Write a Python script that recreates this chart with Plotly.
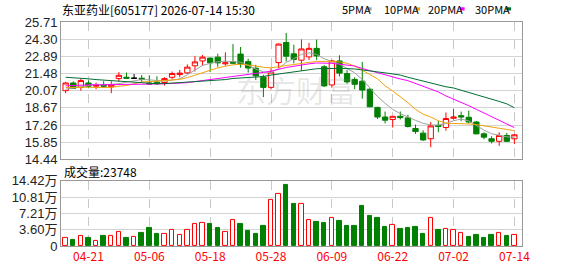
import plotly.graph_objects as go

# ---------------- data ----------------
dates = ["04-16", "04-17", "04-20", "04-21", "04-22", "04-23", "04-24", "04-27", "04-28", "04-29",
         "04-30", "05-06", "05-07", "05-08", "05-11", "05-12", "05-13", "05-14", "05-15", "05-18",
         "05-19", "05-20", "05-21", "05-22", "05-25", "05-26", "05-27", "05-28", "05-29", "06-01",
         "06-02", "06-03", "06-04", "06-05", "06-08", "06-09", "06-10", "06-11", "06-12", "06-15",
         "06-16", "06-17", "06-18", "06-22", "06-23", "06-24", "06-25", "06-26", "06-29", "06-30",
         "07-01", "07-02", "07-03", "07-06", "07-07", "07-08", "07-09", "07-10", "07-13", "07-14"]

opens = [20.08, 20.71, 20.34, 20.71, 20.45, 20.55, 20.40, 21.07, 21.18, 21.10,
         21.10, 20.71, 20.78, 20.75, 21.18, 21.40, 21.54, 22.12, 22.52, 22.75,
         22.83, 22.28, 22.44, 23.08, 22.46, 21.92, 21.19, 20.35, 22.38, 24.03,
         23.10, 22.58, 22.85, 23.55, 22.04, 20.55, 22.52, 21.48, 21.00, 20.86,
         20.20, 18.71, 17.92, 17.72, 17.98, 17.85, 16.98, 16.60, 16.14, 17.24,
         17.06, 17.82, 18.03, 17.90, 17.51, 16.54, 16.14, 15.93, 16.41, 16.14]
highs = [20.81, 20.84, 21.07, 20.91, 20.75, 20.85, 20.85, 21.60, 21.57, 21.44,
         21.36, 21.34, 21.26, 21.18, 21.65, 21.78, 22.23, 22.91, 23.01, 22.80,
         23.11, 23.22, 23.90, 23.66, 22.70, 22.20, 21.38, 21.93, 23.95, 24.82,
         23.85, 24.28, 24.00, 24.27, 22.17, 22.62, 22.98, 21.78, 21.18, 22.44,
         20.28, 18.76, 18.37, 18.00, 18.37, 18.11, 17.30, 16.83, 17.51, 17.59,
         18.29, 18.60, 18.37, 18.45, 17.59, 16.67, 16.35, 16.67, 16.62, 16.54]
lows = [19.87, 20.24, 20.08, 20.28, 20.20, 20.30, 19.87, 20.81, 21.05, 21.10,
        20.81, 20.60, 20.55, 20.50, 21.02, 21.18, 21.44, 21.65, 22.12, 21.60,
        22.04, 22.12, 22.30, 21.96, 21.56, 20.95, 19.56, 20.18, 21.95, 22.46,
        22.32, 21.70, 22.60, 22.60, 20.39, 20.33, 21.25, 20.65, 20.20, 19.42,
        18.71, 17.77, 17.40, 17.06, 17.72, 17.06, 16.54, 15.97, 15.44, 16.67,
        16.80, 17.72, 17.59, 17.40, 16.51, 16.09, 15.75, 15.56, 15.88, 15.70]
closes = [20.71, 20.28, 20.91, 20.44, 20.52, 20.45, 20.55, 21.34, 21.10, 21.10,
          21.02, 20.63, 20.65, 21.07, 21.49, 21.52, 22.01, 22.44, 22.83, 22.36,
          22.36, 22.36, 22.33, 22.28, 21.94, 21.30, 20.35, 21.60, 23.90, 22.91,
          22.64, 23.50, 23.55, 22.93, 20.47, 22.52, 21.52, 20.80, 20.60, 20.13,
          18.76, 17.92, 17.66, 17.98, 17.87, 17.14, 16.73, 16.04, 17.19, 17.14,
          17.80, 17.92, 17.92, 17.51, 16.54, 16.27, 15.93, 16.41, 15.93, 16.46]

volumes = [17100, 14300, 22900, 17100, 11500, 22900, 22900, 31500, 18600, 20000,
           29300, 40000, 27200, 27200, 35000, 25000, 35700, 48600, 52100, 48600,
           40000, 31500, 58600, 48600, 33600, 25700, 44300, 102000, 115000, 136300,
           93500, 93500, 58600, 52800, 50700, 61400, 55000, 44300, 44300, 89200,
           65700, 61400, 42100, 46400, 37900, 40000, 42100, 27200, 61400, 35700,
           37900, 35700, 29300, 20700, 25000, 18600, 25000, 29300, 22900, 23748]
vol_up = [1, 0, 1, 0, 1, 0, 1, 1, 0, 1,
          0, 0, 0, 1, 1, 1, 1, 1, 1, 0,
          0, 1, 1, 0, 0, 0, 0, 1, 1, 0,
          0, 1, 1, 0, 0, 1, 0, 0, 0, 0,
          0, 0, 0, 1, 0, 0, 0, 0, 1, 0,
          1, 1, 1, 0, 0, 0, 0, 1, 0, 1]

ma5 = [20.20, 20.30, 20.45, 20.55, 20.60, 20.55, 20.58, 20.65, 20.78, 20.90,
       20.99, 20.97, 20.90, 20.86, 20.95, 21.05, 21.38, 21.80, 22.15, 22.32,
       22.45, 22.50, 22.47, 22.42, 22.15, 21.85, 21.62, 21.55, 21.90, 22.40,
       22.70, 23.05, 23.18, 23.05, 22.70, 22.45, 22.25, 21.90, 21.55, 21.00,
       20.30, 19.60, 19.05, 18.55, 18.20, 17.90, 17.65, 17.40, 17.28, 17.25,
       17.40, 17.62, 17.75, 17.60, 17.20, 16.85, 16.55, 16.40, 16.30, 16.25]
ma10 = [20.34, 20.36, 20.37, 20.36, 20.34, 20.34, 20.35, 20.45, 20.50, 20.65,
        20.80, 20.82, 20.86, 20.87, 20.95, 21.00, 21.15, 21.35, 21.58, 21.78,
        21.95, 22.08, 22.20, 22.25, 22.20, 22.10, 22.00, 21.95, 22.05, 22.15,
        22.25, 22.33, 22.40, 22.48, 22.50, 22.48, 22.44, 22.33, 22.10, 21.78,
        21.40, 21.05, 20.48, 20.05, 19.58, 19.10, 18.55, 18.15, 17.92, 17.62,
        17.42, 17.41, 17.40, 17.35, 17.30, 17.22, 17.12, 17.00, 16.90, 16.80]
ma20 = [20.48, 20.52, 20.55, 20.55, 20.56, 20.56, 20.57, 20.57, 20.58, 20.59,
        20.60, 20.62, 20.63, 20.64, 20.66, 20.70, 20.74, 20.82, 20.90, 20.96,
        21.04, 21.12, 21.22, 21.32, 21.42, 21.50, 21.58, 21.68, 21.85, 21.98,
        22.08, 22.20, 22.28, 22.35, 22.36, 22.32, 22.25, 22.16, 22.10, 21.90,
        21.72, 21.55, 21.38, 21.22, 21.04, 20.90, 20.68, 20.48, 20.22, 19.98,
        19.65, 19.40, 19.10, 18.85, 18.55, 18.25, 17.95, 17.65, 17.35, 17.05]
ma30 = [21.18, 21.15, 21.07, 21.05, 20.99, 20.95, 20.90, 20.86, 20.80, 20.75,
        20.70, 20.66, 20.65, 20.66, 20.70, 20.72, 20.74, 20.78, 20.84, 20.87,
        20.93, 20.99, 21.08, 21.12, 21.16, 21.20, 21.24, 21.36, 21.45, 21.58,
        21.66, 21.74, 21.80, 21.88, 21.90, 21.91, 21.91, 21.89, 21.86, 21.80,
        21.70, 21.62, 21.54, 21.46, 21.36, 21.18, 21.02, 20.85, 20.66, 20.50,
        20.40, 20.30, 20.12, 19.96, 19.80, 19.58, 19.42, 19.20, 19.00, 18.68]

price_ticks = [14.44, 15.85, 17.26, 18.67, 20.07, 21.48, 22.89, 24.30, 25.71]
vol_ticks = [0, 36050, 72100, 108150, 144200]
vol_tick_text = ["0", "3.60万", "7.21万", "10.81万", "14.42万"]
title_text = "东亚药业[605177] 2026-07-14 15:30"
ma_names = ["5PMA", "10PMA", "20PMA", "30PMA"]

# ---------------- styles ----------------
RED = "#ff0000"
GREEN = "#008000"
MA_COLORS = ["#a0a0a0", "#f0a30a", "#ff00ff", "#006e32"]
CJK = "Noto Sans CJK SC"
NUM = "Liberation Sans, Noto Sans CJK SC"

L, R, T, B = 56, 56, 22, 21
W, H = 578, 276
PW, PH = W - L - R, H - T - B


def px(xp):
    return (xp - L) / PW


def py(yp):
    return (H - B - yp) / PH


idx = list(range(len(dates)))
is_doji = [o == c for o, c in zip(opens, closes)]
n_idx = [i for i in idx if not is_doji[i]]
d_idx = [i for i in idx if is_doji[i]]

fig = go.Figure()

fig.add_trace(go.Candlestick(
    x=n_idx,
    open=[opens[i] for i in n_idx], high=[highs[i] for i in n_idx],
    low=[lows[i] for i in n_idx], close=[closes[i] for i in n_idx],
    increasing=dict(line=dict(color=RED, width=1), fillcolor="#ffffff"),
    decreasing=dict(line=dict(color=GREEN, width=1), fillcolor=GREEN),
    xaxis="x", yaxis="y", hoverinfo="skip",
))
if d_idx:
    fig.add_trace(go.Candlestick(
        x=d_idx,
        open=[opens[i] for i in d_idx], high=[highs[i] for i in d_idx],
        low=[lows[i] for i in d_idx], close=[closes[i] for i in d_idx],
        increasing=dict(line=dict(color="#000000", width=1), fillcolor="#000000"),
        decreasing=dict(line=dict(color="#000000", width=1), fillcolor="#000000"),
        xaxis="x", yaxis="y", hoverinfo="skip",
    ))

for vals, col in zip([ma30, ma20, ma10, ma5][::-1][::-1], MA_COLORS[::-1]):
    pass

for vals, col in zip([ma5, ma10, ma20, ma30], MA_COLORS):
    fig.add_trace(go.Scatter(x=idx, y=vals, mode="lines",
                             line=dict(color=col, width=1),
                             xaxis="x", yaxis="y", hoverinfo="skip"))

fig.add_trace(go.Bar(
    x=idx, y=volumes, width=0.58,
    marker=dict(color=["#ffffff" if u else GREEN for u in vol_up],
                line=dict(color=[RED if u else GREEN for u in vol_up], width=1)),
    xaxis="x2", yaxis="y2", hoverinfo="skip",
))

tick_pos = list(range(3, len(dates), 8))
tick_txt = [dates[i] for i in tick_pos]
xr = [-0.61, 60.0]

common_x = dict(range=xr, tickvals=tick_pos, showgrid=True, gridcolor="#c8c8c8",
                griddash="dash", gridwidth=1, showline=True, linecolor="#999999",
                linewidth=1, mirror=True, zeroline=False, ticks="", fixedrange=True)
common_y = dict(showgrid=True, gridcolor="#d4d4d4", gridwidth=1, showline=True,
                linecolor="#999999", linewidth=1, mirror=True, zeroline=False,
                ticks="", fixedrange=True)

fig.update_layout(
    width=W, height=H, margin=dict(l=L, r=R, t=T, b=B),
    paper_bgcolor="#ffffff", plot_bgcolor="#ffffff", showlegend=False,
    boxgap=0.3, boxgroupgap=0, bargap=0,
    xaxis=dict(domain=[0, 1], anchor="y", showticklabels=False,
               rangeslider=dict(visible=False), **common_x),
    yaxis=dict(domain=[py(165), 1], range=[price_ticks[0], price_ticks[-1]],
               tickvals=price_ticks, tickformat=".2f",
               tickfont=dict(family=NUM, size=13, color="#222222"), **common_y),
    xaxis2=dict(domain=[0, 1], anchor="y2", ticktext=tick_txt,
                tickfont=dict(family=CJK, size=12, color=RED), **common_x),
    yaxis2=dict(domain=[0, py(187.3)], range=[0, vol_ticks[-1]],
                tickvals=vol_ticks, ticktext=vol_tick_text,
                tickfont=dict(family=NUM, size=13, color="#222222"), **common_y),
)

ann = []
ann.append(dict(text=title_text, x=px(55), y=py(8.5), xref="paper", yref="paper",
                xanchor="left", yanchor="middle", showarrow=False,
                font=dict(family=CJK, size=12, color="#000000")))
ann.append(dict(text="成交量:" + str(volumes[-1]), x=px(57), y=py(177), xref="paper",
                yref="paper", xanchor="left", yanchor="middle", showarrow=False,
                font=dict(family=CJK, size=12, color="#000000")))
ann.append(dict(text="东方财富", x=px(294), y=py(92), xref="paper", yref="paper",
                xanchor="center", yanchor="middle", showarrow=False,
                font=dict(family=CJK, size=30, color="rgba(128,128,128,0.2)")))

legend_x = [338, 380, 425, 472]
shapes = []
for name, col, lx in zip(ma_names, MA_COLORS, legend_x):
    ann.append(dict(text=name, x=px(lx), y=py(8.5), xref="paper", yref="paper",
                    xanchor="left", yanchor="middle", showarrow=False,
                    font=dict(family=CJK, size=11, color="#000000")))
    mx = lx + 7 * len(name) - 1
    shapes.append(dict(type="rect", xref="paper", yref="paper",
                       x0=px(mx), x1=px(mx + 5), y0=py(10), y1=py(6.7),
                       fillcolor=col, line=dict(width=0)))

fig.update_layout(annotations=ann, shapes=shapes)

fig.write_html("out.html")
